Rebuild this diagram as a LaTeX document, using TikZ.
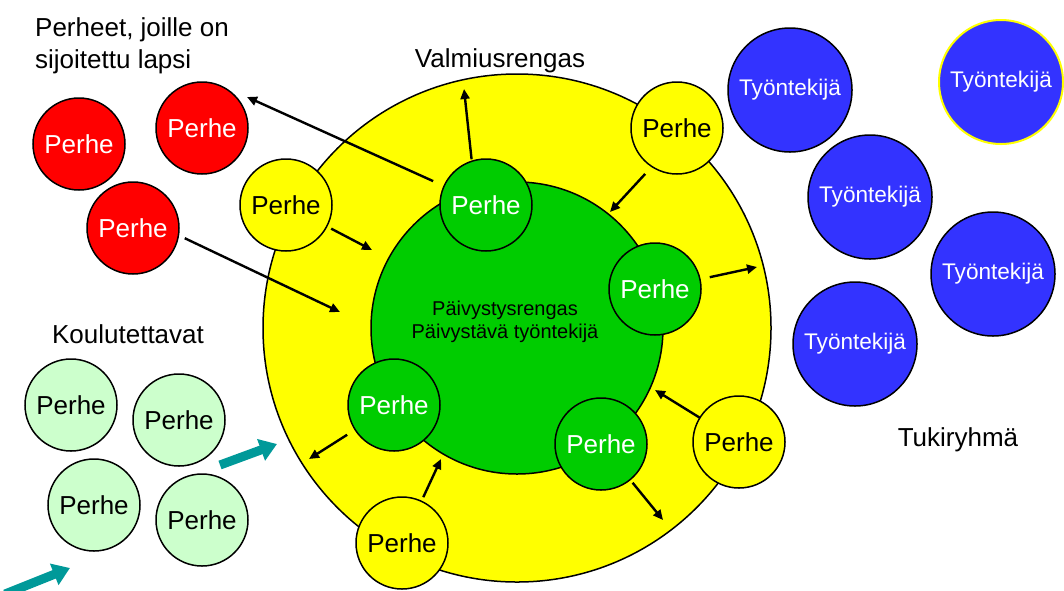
\documentclass[tikz,border=0pt]{standalone}
\usepackage{fontspec}
\setmainfont{Liberation Sans}
\usetikzlibrary{arrows.meta}
\definecolor{cred}{HTML}{FF0000}
\definecolor{cyel}{HTML}{FFFF00}
\definecolor{cgreen}{HTML}{00CC00}
\definecolor{clight}{HTML}{CCFFCC}
\definecolor{cblue}{HTML}{3333FF}
\definecolor{cteal}{HTML}{009999}
\begin{document}
\begin{tikzpicture}[x=1pt,y=-1pt,
  fam/.style={circle,draw=black,line width=1.5pt,minimum size=92pt,inner sep=0pt,outer sep=0pt,font=\fontsize{26}{30}\selectfont},
  redfam/.style={fam,fill=cred,text=white},
  yelfam/.style={fam,fill=cyel,text=black},
  grnfam/.style={fam,fill=cgreen,text=white},
  lgfam/.style={fam,fill=clight,text=black},
  worker/.style={circle,draw=black,line width=1.5pt,minimum size=124pt,inner sep=0pt,outer sep=0pt,fill=cblue,text=white,font=\fontsize{22.6}{26}\selectfont},
  lbl/.style={font=\fontsize{26}{32}\selectfont,inner sep=0pt},
  arr/.style={line width=2.4pt,-{Triangle[length=10pt,width=9pt]}},
  bigarr/.style={draw=cteal,line width=9pt,-{Triangle[length=17pt,width=22pt]}}
]
\useasboundingbox (0,0) rectangle (1064,590);

% rings
\node[circle,draw=black,line width=1.5pt,fill=cyel,minimum size=508pt,inner sep=0pt] (ring) at (517,328) {};
\node[circle,draw=black,line width=1.5pt,fill=cgreen,minimum size=292pt,inner sep=0pt] (core) at (517,328) {};
\node[font=\fontsize{20}{23}\selectfont,align=center,anchor=base,inner sep=0pt] (coretxt) at (505,338) {Päivystysrengas\\Päivystävä työntekijä};

% labels
\node[lbl,anchor=base west,align=left] (lred) at (35,68) {Perheet, joille on\\sijoitettu lapsi};
\node[lbl,anchor=base] (lval) at (500,67) {Valmiusrengas};
\node[lbl,anchor=base] (lkou) at (128,343) {Koulutettavat};
\node[lbl,anchor=base] (ltuk) at (958,446) {Tukiryhmä};

% red families
\node[redfam] (r1) at (79,144) {Perhe};
\node[redfam] (r2) at (202,128) {Perhe};
\node[redfam] (r3) at (133,228) {Perhe};

% yellow families
\node[yelfam] (y1) at (286,205) {Perhe};
\node[yelfam] (y2) at (677,128) {Perhe};
\node[yelfam] (y3) at (739,442) {Perhe};
\node[yelfam] (y4) at (402,543) {Perhe};

% green families
\node[grnfam] (g1) at (486,205) {Perhe};
\node[grnfam] (g2) at (655,289) {Perhe};
\node[grnfam] (g3) at (394,405) {Perhe};
\node[grnfam] (g4) at (601,444) {Perhe};

% trainees
\node[lgfam] (k1) at (71,405) {Perhe};
\node[lgfam] (k2) at (179,420) {Perhe};
\node[lgfam] (k3) at (94,505) {Perhe};
\node[lgfam] (k4) at (202,520) {Perhe};

% workers
\node[worker] (w1) at (790,90) {Työntekijä};
\node[worker,draw=cyel,line width=2pt] (w2) at (1001,82) {Työntekijä};
\node[worker] (w3) at (870,197) {Työntekijä};
\node[worker] (w4) at (993,274) {Työntekijä};
\node[worker] (w5) at (855,344) {Työntekijä};

% arrow end points
\coordinate (c1) at (247,97);
\coordinate (c2) at (340,312);
\coordinate (c3) at (372,250);
\coordinate (c4) at (464,89);
\coordinate (c5) at (610,212);
\coordinate (c6) at (757,267);
\coordinate (c7) at (655,390);
\coordinate (c8) at (663,520);
\coordinate (c9) at (441,459);
\coordinate (c10) at (309,459);

\draw[arr,shorten <=12pt] (g1) -- (c1);
\draw[arr,shorten <=7pt] (r3.-9) -- (c2);
\draw[arr,shorten <=5pt] (y1) -- (c3);
\draw[arr,shorten <=2pt] (g1.108) -- (c4);
\draw[arr,shorten <=10pt] (y2.237) -- (c5);
\draw[arr,shorten <=10pt] (g2) -- (c6);
\draw[arr] (y3) -- (c7);
\draw[arr,shorten <=4pt] (g4) -- (c8);
\draw[arr,shorten <=4.5pt] (y4) -- (c9);
\draw[arr,shorten <=9.5pt] (g3) -- (c10);

% teal block arrows
\coordinate (t1s) at (220,465);
\coordinate (t1e) at (277,444);
\coordinate (t2s) at (5,594);
\coordinate (t2e) at (70,568);
\draw[bigarr] (t1s) -- (t1e);
\draw[bigarr] (t2s) -- (t2e);
\end{tikzpicture}
\end{document}
